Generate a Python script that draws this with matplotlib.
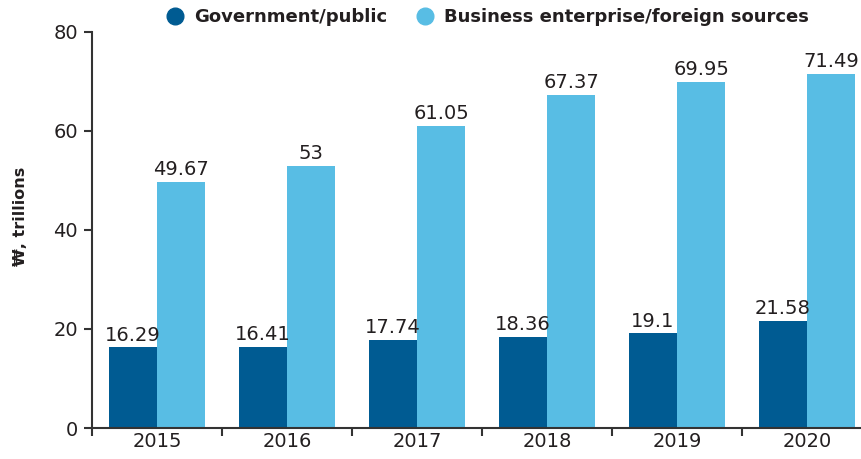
import matplotlib
matplotlib.use("Agg")
import matplotlib.pyplot as plt
import numpy as np
from matplotlib.lines import Line2D

years = ["2015", "2016", "2017", "2018", "2019", "2020"]
gov = [16.29, 16.41, 17.74, 18.36, 19.1, 21.58]
biz = [49.67, 53, 61.05, 67.37, 69.95, 71.49]
gov_labels = ["16.29", "16.41", "17.74", "18.36", "19.1", "21.58"]
biz_labels = ["49.67", "53", "61.05", "67.37", "69.95", "71.49"]
series_names = ["Government/public", "Business enterprise/foreign sources"]

c_dark = "#005B92"
c_light = "#58BDE4"
txt = "#231F20"

plt.rcParams['font.family'] = ['DejaVu Sans']

fig = plt.figure(figsize=(8.62, 4.59), dpi=100)
ax = fig.add_axes([92/862, 1-428/459, (862-92)/862, (428-32)/459])

x = np.arange(len(years))
w = 0.373
ax.bar(x - w/2, gov, width=w, color=c_dark)
ax.bar(x + w/2, biz, width=w, color=c_light)

for xi, v, l in zip(x, gov, gov_labels):
    ax.annotate(l, (xi - w/2, v), xytext=(0, 2), textcoords="offset points",
                ha="center", va="bottom", fontsize=14, color=txt)
for xi, v, l in zip(x, biz, biz_labels):
    ax.annotate(l, (xi + w/2, v), xytext=(0, 2), textcoords="offset points",
                ha="center", va="bottom", fontsize=14, color=txt)

ax.set_xlim(-0.5, (862-92)/130 - 0.5)
ax.set_ylim(0, 80)
ax.set_yticks([0, 20, 40, 60, 80])
ax.set_xticks(x)
ax.set_xticklabels(years)
ax.set_xticks(np.arange(len(years)) - 0.5, minor=True)
ax.tick_params(axis='x', which='major', length=0, labelsize=14, labelcolor=txt, pad=3)
ax.tick_params(axis='x', which='minor', length=6, width=1.5, color="#333333")
ax.tick_params(axis='y', length=6, width=1.5, color="#333333", labelsize=14, labelcolor=txt, pad=4)

for s in ["top", "right"]:
    ax.spines[s].set_visible(False)
for s in ["left", "bottom"]:
    ax.spines[s].set_linewidth(1.5)
    ax.spines[s].set_color("#333333")

ax.set_ylabel("₩, trillions", fontsize=11.5, fontweight="bold", color=txt)
ax.yaxis.set_label_coords(-0.083, 0.535)

handles = [Line2D([], [], marker='o', linestyle='none', markersize=12, color=c_dark),
           Line2D([], [], marker='o', linestyle='none', markersize=12, color=c_light)]
leg = fig.legend(handles, series_names, loc="center", bbox_to_anchor=(483/862, 1-17/459),
                 ncol=2, frameon=False, handletextpad=0.05, columnspacing=1.1,
                 prop={'weight': 'bold', 'size': 13})
for t in leg.get_texts():
    t.set_color(txt)

fig.savefig("out.png", dpi=100)
